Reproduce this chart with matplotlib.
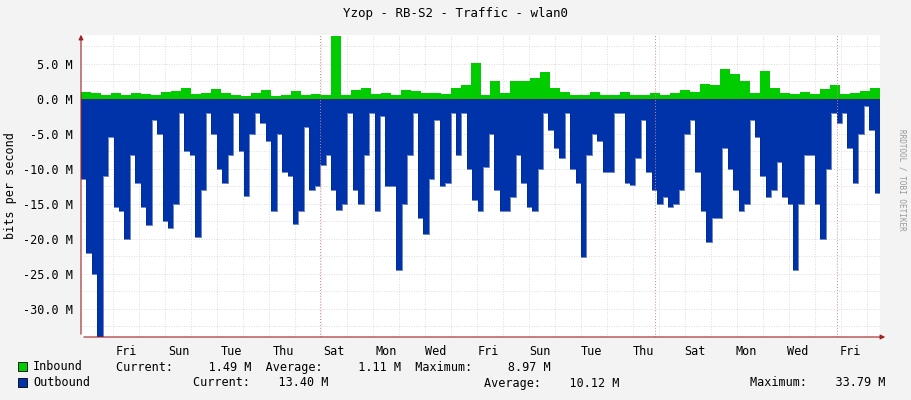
import numpy as np
import matplotlib.pyplot as plt
from matplotlib.patches import Rectangle

plt.rcParams["font.family"] = ["DejaVu Sans Mono"]
plt.rcParams["font.size"] = 8.5

# period covered, in days
span_days = 30.73
day_names = ["Fri", "Sun", "Tue", "Thu", "Sat", "Mon", "Wed", "Fri", "Sun", "Tue", "Thu", "Sat", "Mon", "Wed", "Fri"]
day_label_pos = [1.73, 3.77, 5.77, 7.77, 9.73, 11.73, 13.65, 15.65, 17.65, 19.65, 21.62, 23.62, 25.58, 27.58, 29.58]
major_lines = [9.19, 22.08, 29.08]

# inbound traffic (Mbit/s), uniformly spaced over the period
inbound = [1.0, 0.9, 0.6, 0.8, 0.5, 0.9, 0.7, 0.5, 1.0, 1.2, 1.5, 0.7, 0.8, 1.4, 0.8, 0.5,
           0.4, 0.9, 1.3, 0.4, 0.6, 1.2, 0.5, 0.7, 0.6, 9.0, 0.6, 1.3, 1.5, 0.7, 0.8, 0.6,
           1.3, 1.2, 0.9, 0.8, 0.7, 1.5, 2.0, 5.2, 0.6, 2.5, 0.9, 2.5, 2.6, 3.0, 3.8, 1.5,
           1.0, 0.6, 0.6, 1.0, 0.5, 0.5, 1.0, 0.5, 0.6, 0.9, 0.6, 0.8, 1.3, 1.0, 2.2, 2.0,
           4.3, 3.5, 2.5, 0.9, 4.0, 1.5, 0.9, 0.7, 1.0, 0.7, 1.4, 2.0, 0.7, 0.8, 1.1, 1.5]

# outbound traffic (Mbit/s), uniformly spaced over the period
outbound = [11.5, 22, 25, 34, 11, 5.5, 15.5, 16, 20, 8, 12, 15.5, 18, 3, 5, 17.5, 18.5, 15,
            2, 7.5, 8, 19.7, 13, 2, 5, 10, 12, 8, 2, 7.5, 13.8, 5, 2, 3.5, 6, 16, 5, 10.5,
            11, 17.8, 16, 4, 13, 12.5, 9.5, 8, 13, 15.8, 15, 2, 13, 15, 8, 2, 16, 2.5, 12.5,
            12.5, 24.5, 15, 8, 2, 17, 19.3, 11.5, 3, 12.5, 12, 2, 8, 2, 10, 14.5, 16, 9.7,
            5, 13, 16, 16, 14, 8, 12, 15.5, 16, 10, 2, 4.5, 7, 8.5, 2, 10, 12, 22.6, 8, 5,
            6, 10.5, 10.5, 2, 2, 12, 12.3, 8.5, 3, 10.5, 13, 15, 14, 15.5, 15, 13, 5, 3,
            10.5, 16, 20.5, 17, 17, 7, 10, 13, 16, 15, 3, 5.5, 11, 14, 13, 9, 14, 15, 24.5,
            15, 8, 8, 15, 20, 10, 2, 3.5, 2, 7, 12, 5, 1, 4.5, 13.5]

fig = plt.figure(figsize=(9.11, 4.0), dpi=100, facecolor="#f3f3f3")
ax = fig.add_axes([81 / 911, 1 - 337 / 400, 799 / 911, 302 / 400], facecolor="white")

t_in = np.linspace(0, span_days, len(inbound) + 1)
t_out = np.linspace(0, span_days, len(outbound) + 1)
v_in = np.append(inbound, inbound[-1])
v_out = -np.append(outbound, outbound[-1])

ax.fill_between(t_in, 0, v_in, step="post", color="#00cc00", lw=0, zorder=2)
ax.fill_between(t_out, 0, v_out, step="post", color="#0033aa", lw=0, zorder=2)
ax.step(t_out, v_out, where="post", color="#002a90", lw=0.4, zorder=2)

ax.set_xlim(0, span_days)
ax.set_ylim(-34.0, 9.14)

yt = [5, 0, -5, -10, -15, -20, -25, -30]
ax.set_yticks(yt)
ax.set_yticklabels([f"{v:.1f} M" for v in yt])
ax.set_xticks(day_label_pos)
ax.set_xticklabels(day_names)
ax.tick_params(length=0, pad=6)

for y in np.arange(-32.5, 9, 2.5):
    ax.axhline(y, color="#d0d0d0", lw=0.6, ls=(0, (1, 2)), zorder=0)
for x in np.arange(1.23, span_days, 1.0):
    ax.axvline(x, color="#d0d0d0", lw=0.6, ls=(0, (1, 2)), zorder=0)
for x in major_lines:
    ax.axvline(x, color="#e08080", lw=0.7, ls=(0, (1, 2)), zorder=3)
ax.axhline(0, color="#b00000", lw=0.6, ls=(0, (1, 2)), zorder=3)

for s in ax.spines.values():
    s.set_visible(False)
ax.annotate("", xy=(1.01, 0), xytext=(0, 0), xycoords="axes fraction",
            arrowprops=dict(arrowstyle="-|>", color="#a02020", lw=0.8, mutation_scale=7))
ax.annotate("", xy=(0, 1.01), xytext=(0, 0), xycoords="axes fraction",
            arrowprops=dict(arrowstyle="-|>", color="#a02020", lw=0.8, mutation_scale=7))

ax.set_ylabel("bits per second", labelpad=4)
fig.text(0.5, 1 - 13 / 400, "Yzop - RB-S2 - Traffic - wlan0", ha="center", va="center", fontsize=9)
fig.text(902 / 911, 0.55, "RRDTOOL / TOBI OETIKER", rotation=270, ha="center", va="center",
         fontsize=5.5, color="#999999")

# legend rows
for row, (lbl, col, txt) in enumerate([
        ("Inbound", "#00cc00", "Current:     1.49 M  Average:     1.11 M  Maximum:     8.97 M"),
        ("Outbound", "#0033aa", None)]):
    y = 1 - (367 + row * 16) / 400
    fig.patches.append(Rectangle((18 / 911, y - 4 / 400), 9 / 911, 9 / 400, transform=fig.transFigure,
                                 facecolor=col, edgecolor="black", lw=0.6))
    fig.text(33 / 911, y, lbl, va="center")
    if txt:
        fig.text(116 / 911, y, txt, va="center")
fig.text(193 / 911, 1 - 383 / 400, "Current:    13.40 M", va="center")
fig.text(484 / 911, 1 - 383 / 400, "Average:    10.12 M", va="center")
fig.text(750 / 911, 1 - 383 / 400, "Maximum:    33.79 M", va="center")

fig.savefig("out.png", dpi=100, facecolor=fig.get_facecolor())
